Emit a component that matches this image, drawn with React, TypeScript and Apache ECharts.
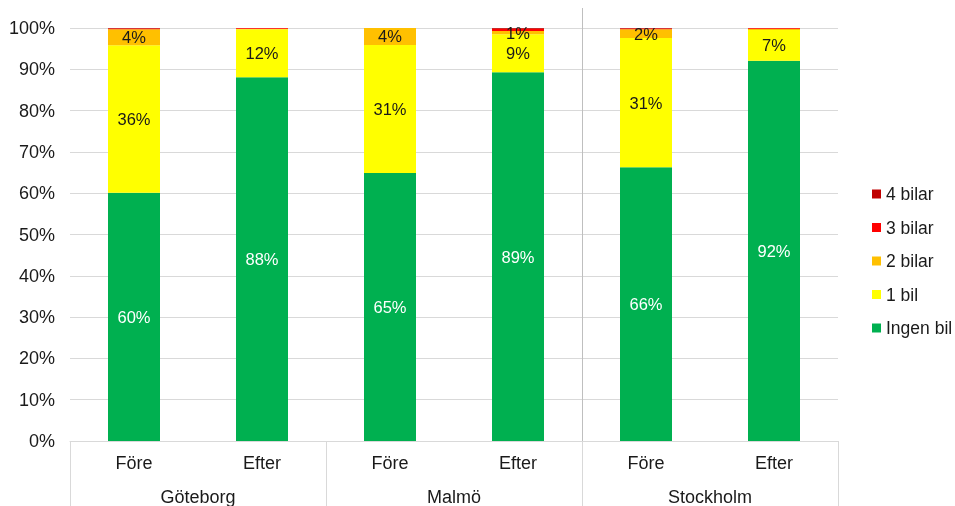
import React, { useEffect, useRef } from "react";
import * as echarts from "echarts";

// Car ownership share per household, before and after, by city
const cities = ["Göteborg", "Malmö", "Stockholm"];
const periods = ["Före", "Efter", "Före", "Efter", "Före", "Efter"];
const seriesNames = ["Ingen bil", "1 bil", "2 bilar", "3 bilar", "4 bilar"];
const ingenBil = [60.1, 88.1, 64.9, 89.3, 66.3, 92.1];
const enBil = [35.7, 11.6, 31.0, 9.2, 31.3, 7.4];
const tvaBilar = [3.9, 0.1, 4.1, 0.8, 2.1, 0.3];
const treBilar = [0.2, 0.2, 0, 0.5, 0.2, 0.2];
const fyraBilar = [0.1, 0, 0, 0.2, 0.1, 0];
const colors = ["#00B050", "#FFFF00", "#FFC000", "#FF0000", "#C00000"];

const FONT = "'Liberation Sans', Arial, sans-serif";

export default function App() {
  const ref = useRef<HTMLDivElement>(null);

  useEffect(() => {
    if (!ref.current) return;
    const chart = echarts.init(ref.current, undefined, { renderer: "svg" });
    const values = [ingenBil, enBil, tvaBilar, treBilar, fyraBilar];

    const series = values.map((data, i) => ({
      name: seriesNames[i],
      type: "bar" as const,
      stack: "total",
      barWidth: 52,
      data,
      itemStyle: { color: colors[i] },
      label: {
        show: true,
        position: "inside" as const,
        fontFamily: FONT,
        fontSize: 16.5,
        color: i === 0 ? "#ffffff" : "#1a1a1a",
        formatter: (p: any) => (p.value >= 0.75 ? Math.round(p.value) + "%" : ""),
      },
    }));

    chart.setOption({
      animation: false,
      grid: { left: 70, right: 117, top: 28, bottom: 65, containLabel: false },
      legend: {
        orient: "vertical",
        left: 872,
        top: 185,
        padding: 0,
        itemWidth: 9,
        itemHeight: 9,
        itemGap: 15.5,
        icon: "rect",
        data: [...seriesNames].reverse(),
        textStyle: { fontFamily: FONT, fontSize: 17.5, color: "#1a1a1a", overflow: "none" },
      },
      xAxis: [
        {
          type: "category",
          data: periods,
          position: "bottom",
          axisLine: { show: true, lineStyle: { color: "#d9d9d9", width: 1 } },
          axisTick: { show: false },
          axisLabel: { margin: 13, fontFamily: FONT, fontSize: 18, color: "#1a1a1a" },
          splitLine: { show: false },
        },
        {
          type: "category",
          data: cities,
          position: "bottom",
          axisLine: { show: false },
          axisTick: { show: true, length: 66, lineStyle: { color: "#d9d9d9", width: 1 } },
          axisLabel: { margin: 47, fontFamily: FONT, fontSize: 18, color: "#1a1a1a" },
          splitLine: { show: false },
        },
      ],
      yAxis: {
        type: "value",
        min: 0,
        max: 100,
        interval: 10,
        axisLine: { show: false },
        axisTick: { show: false },
        axisLabel: {
          formatter: "{value}%",
          margin: 15,
          fontFamily: FONT,
          fontSize: 18,
          color: "#1a1a1a",
        },
        splitLine: { lineStyle: { color: "#d9d9d9", width: 1 } },
      },
      series,
    });

    // Separator between Malmö and Stockholm, placed midway between their bars
    const xa = chart.convertToPixel({ xAxisIndex: 0 }, 3) as number;
    const xb = chart.convertToPixel({ xAxisIndex: 0 }, 4) as number;
    const yBase = chart.convertToPixel({ yAxisIndex: 0 }, 0) as number;
    const xSep = Math.round((xa + xb) / 2) + 0.5;
    chart.setOption({
      graphic: [
        {
          type: "line",
          shape: { x1: xSep, y1: 8, x2: xSep, y2: yBase },
          style: { stroke: "#bfbfbf", lineWidth: 1 },
          silent: true,
        },
      ],
    });

    return () => chart.dispose();
  }, []);

  return (
    <div
      ref={ref}
      style={{ position: "fixed", left: 0, top: 0, width: 955, height: 506 }}
    />
  );
}
